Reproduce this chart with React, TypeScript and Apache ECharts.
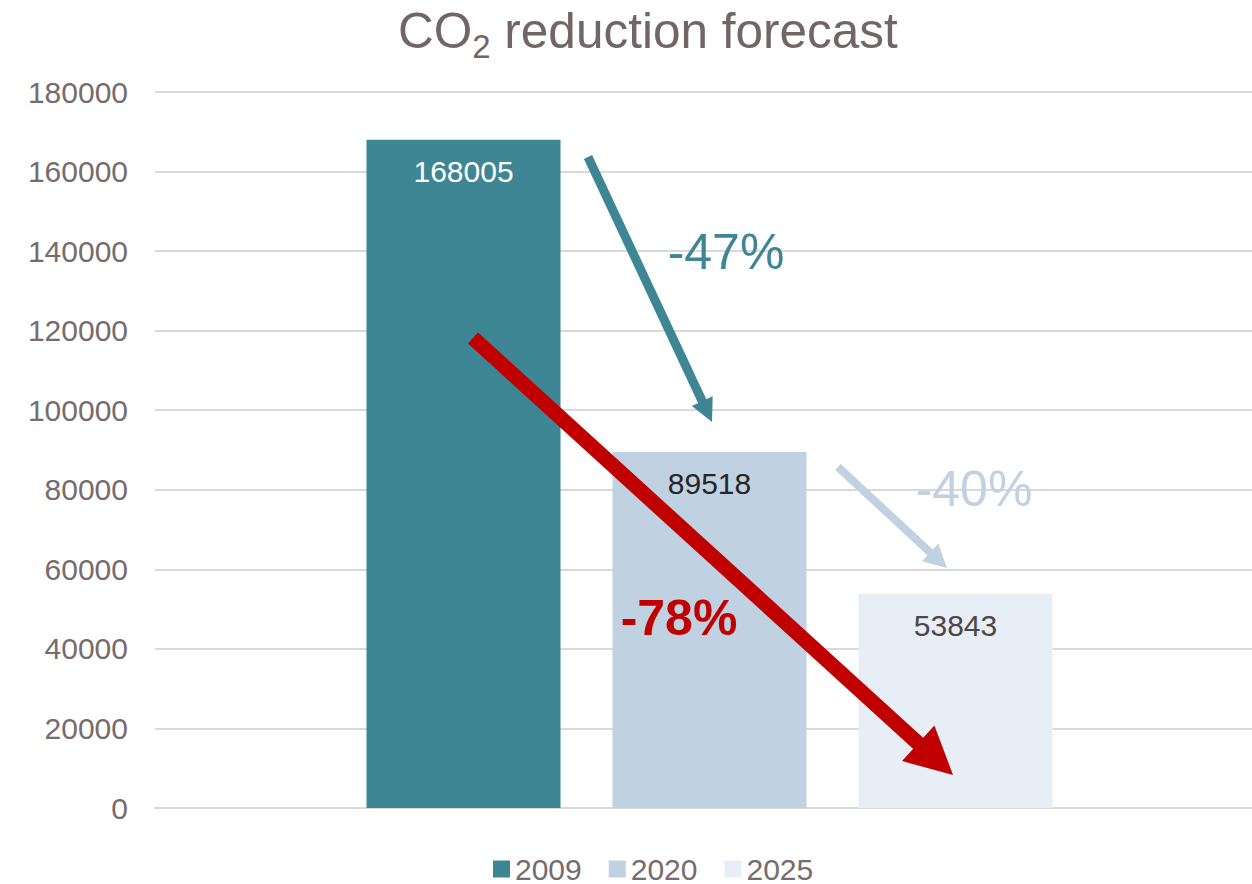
import React, { useEffect, useRef } from "react";
import * as echarts from "echarts";

const categories = ["CO2"];
const seriesNames = ["2009", "2020", "2025"];
const values2009 = [168005];
const values2020 = [89518];
const values2025 = [53843];
const yTicks = { min: 0, max: 180000, interval: 20000 };
const colors = ["#3F8695", "#C0D1E1", "#E7EEF6"];
const labelColors = ["#FFFFFF", "#262626", "#4E4548"];
const textGrey = "#766B6D";
const FONT = "'Liberation Sans', Arial, sans-serif";

function arrow(x1: number, y1: number, x2: number, y2: number, w: number, hl: number, hw: number, color: string) {
  const dx = x2 - x1, dy = y2 - y1;
  const L = Math.hypot(dx, dy);
  const ux = dx / L, uy = dy / L;
  const bx = x2 - ux * hl, by = y2 - uy * hl;
  const px = -uy, py = ux;
  return [
    {
      type: "line",
      z: 100,
      shape: { x1, y1, x2: bx + ux * 2, y2: by + uy * 2 },
      style: { stroke: color, lineWidth: w, lineCap: "butt" },
    },
    {
      type: "polygon",
      z: 100,
      shape: {
        points: [
          [x2, y2],
          [bx + (px * hw) / 2, by + (py * hw) / 2],
          [bx - (px * hw) / 2, by - (py * hw) / 2],
        ],
      },
      style: { fill: color },
    },
  ];
}

export default function App() {
  const ref = useRef<HTMLDivElement>(null);
  useEffect(() => {
    document.body.style.margin = "0";
    const chart = echarts.init(ref.current!, null, { renderer: "svg" });
    const data = [values2009, values2020, values2025];
    chart.setOption({
      animation: false,
      backgroundColor: "#FFFFFF",
      textStyle: { fontFamily: FONT },
      title: {
        text: "{a|CO}{b|2}{a| reduction forecast}",
        left: 398,
        top: 5,
        padding: 0,
        textStyle: {
          fontWeight: "normal",
          rich: {
            a: { fontSize: 49.5, fontWeight: "normal", fontFamily: FONT, color: "#716567", lineHeight: 58, verticalAlign: "top" },
            b: { fontSize: 33, fontWeight: "normal", fontFamily: FONT, color: "#716567", verticalAlign: "bottom" },
          },
        },
      },
      legend: {
        data: seriesNames,
        left: 488,
        top: 849,
        itemWidth: 17,
        itemHeight: 17,
        itemGap: 27,
        icon: "rect",
        textStyle: { fontSize: 30, lineHeight: 30, color: textGrey, fontFamily: FONT },
      },
      grid: [
        { left: 155, right: 0, top: 92, bottom: 76, containLabel: false },
        { left: 167, right: 0, top: 92, bottom: 76, containLabel: false },
      ],
      xAxis: [
        {
          type: "category",
          gridIndex: 0,
          data: categories,
          axisLine: { show: true, lineStyle: { color: "#D9D9D9", width: 2 } },
          axisTick: { show: false },
          axisLabel: { show: false },
        },
        {
          type: "category",
          gridIndex: 1,
          data: categories,
          axisLine: { show: false },
          axisTick: { show: false },
          axisLabel: { show: false },
        },
      ],
      yAxis: [
        {
          type: "value",
          gridIndex: 0,
          min: yTicks.min,
          max: yTicks.max,
          interval: yTicks.interval,
          axisLine: { show: false },
          axisTick: { show: false },
          axisLabel: {
            fontSize: 30,
            color: textGrey,
            margin: 27,
            fontFamily: FONT,
            formatter: (v: number) => String(v),
          },
          splitLine: { lineStyle: { color: "#D9D9D9", width: 2 } },
        },
        {
          type: "value",
          gridIndex: 1,
          min: yTicks.min,
          max: yTicks.max,
          interval: yTicks.interval,
          axisLine: { show: false },
          axisTick: { show: false },
          axisLabel: { show: false },
          splitLine: { show: false },
        },
      ],
      series: seriesNames.map((name, i) => ({
        name,
        type: "bar",
        xAxisIndex: 1,
        yAxisIndex: 1,
        data: data[i],
        barWidth: 194,
        barGap: "26.8%",
        itemStyle: { color: colors[i] },
        label: {
          show: true,
          position: "insideTop",
          distance: 17,
          fontSize: 30,
          color: labelColors[i],
          fontFamily: FONT,
        },
      })),
      graphic: [
        ...arrow(588, 157, 712, 422, 9, 23, 23, "#3F8695"),
        ...arrow(838, 467, 947, 568, 8, 23, 24, "#C0D1E1"),
        ...arrow(473, 338, 953, 775, 15, 47, 48, "#C00000"),
        {
          type: "text",
          z: 101,
          x: 726,
          y: 252,
          style: { text: "-47%", fill: "#3F8695", fontSize: 50, fontFamily: FONT, align: "center", verticalAlign: "middle" },
        },
        {
          type: "text",
          z: 101,
          x: 974,
          y: 489,
          style: { text: "-40%", fill: "#C0D1E1", fontSize: 50, fontFamily: FONT, align: "center", verticalAlign: "middle" },
        },
        {
          type: "text",
          z: 101,
          x: 679,
          y: 618,
          style: { text: "-78%", fill: "#C00000", fontSize: 50, fontWeight: "bold", fontFamily: FONT, align: "center", verticalAlign: "middle" },
        },
      ],
    });
    return () => chart.dispose();
  }, []);
  return <div ref={ref} style={{ position: "absolute", left: 0, top: 0, width: 1252, height: 884 }} />;
}
